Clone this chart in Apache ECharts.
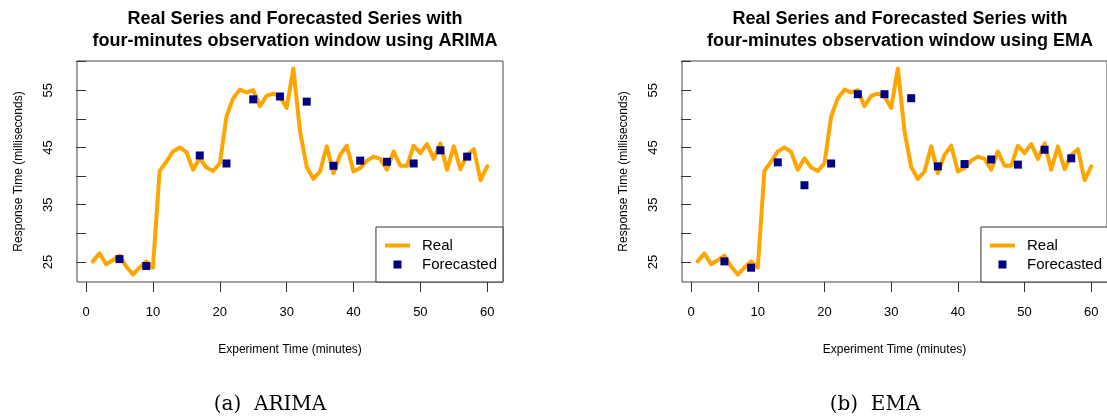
<!DOCTYPE html>
<html>
<head>
<meta charset="utf-8">
<script src="https://cdn.jsdelivr.net/npm/echarts@6/dist/echarts.min.js"></script>
<style>
  html, body { margin: 0; padding: 0; background: #fff; }
  #main { width: 1107px; height: 419px; }
</style>
</head>
<body>
<div id="main"></div>
<script>
// real response time, one value per minute
const minutes = [1, 2, 3, 4, 5, 6, 7, 8, 9, 10, 11, 12, 13, 14, 15, 16, 17, 18, 19, 20,
  21, 22, 23, 24, 25, 26, 27, 28, 29, 30, 31, 32, 33, 34, 35, 36, 37, 38, 39, 40,
  41, 42, 43, 44, 45, 46, 47, 48, 49, 50, 51, 52, 53, 54, 55, 56, 57, 58, 59, 60];
const realTime = [25.1, 26.5, 24.6, 25.3, 26.1, 24.2, 22.8, 24.0, 25.1, 24.0,
  40.9, 42.5, 44.3, 45.0, 44.2, 41.1, 43.1, 41.5, 40.9, 42.2,
  50.4, 53.6, 55.1, 54.6, 55.0, 52.2, 54.0, 54.4, 53.9, 51.9,
  58.8, 47.8, 41.6, 39.5, 40.8, 45.2, 40.5, 43.7, 45.3, 40.8,
  41.4, 42.7, 43.4, 43.0, 41.1, 44.3, 41.8, 41.8, 45.3, 44.0,
  45.6, 43.0, 45.7, 41.1, 45.2, 41.2, 43.7, 44.7, 39.3, 41.7];

// forecasts, every four minutes
const arimaMinutes = [5, 9, 17, 21, 25, 29, 33, 37, 41, 45, 49, 53, 57];
const arimaForecast = [25.5, 24.3, 43.6, 42.2, 53.4, 53.9, 53.0, 41.8, 42.7, 42.5, 42.2, 44.5, 43.4];
const emaMinutes = [5, 9, 13, 17, 21, 25, 29, 33, 37, 41, 45, 49, 53, 57];
const emaForecast = [25.1, 24.0, 42.4, 38.4, 42.2, 54.3, 54.3, 53.6, 41.7, 42.1, 42.9, 42.0, 44.6, 43.1];

const xTicks = [0, 10, 20, 30, 40, 50, 60];
const yTicks = [25, 30, 35, 40, 45, 50, 55, 60];
const yLabels = [25, 35, 45, 55];

const titles = [
  'Real Series and Forecasted Series with\nfour-minutes observation window using ARIMA',
  'Real Series and Forecasted Series with\nfour-minutes observation window using EMA'
];
const captions = ['(a)  ARIMA', '(b)  EMA'];

const SANS = 'Liberation Sans, Arial, sans-serif';
const SERIF = 'DejaVu Serif, serif';
const OFFSET = 605;

const myChart = echarts.init(document.getElementById('main'), null, { renderer: 'canvas' });

function xAxis(i) {
  return {
    type: 'value',
    gridIndex: i,
    min: -1.36,
    max: 62.36,
    axisLine: { show: false },
    splitLine: { show: false },
    axisTick: { show: true, length: 10, customValues: xTicks, lineStyle: { color: '#333' } },
    axisLabel: { customValues: xTicks, margin: 24, fontSize: 13, color: '#000', fontFamily: SANS },
    name: 'Experiment Time (minutes)',
    nameLocation: 'middle',
    nameGap: 62,
    nameTextStyle: { fontSize: 12, color: '#000', fontFamily: SANS }
  };
}

function yAxis(i) {
  return {
    type: 'value',
    gridIndex: i,
    min: 21.5,
    max: 60.1,
    axisLine: { show: false },
    splitLine: { show: false },
    axisTick: { show: true, length: 10, customValues: yTicks, lineStyle: { color: '#333' } },
    axisLabel: { customValues: yLabels, rotate: 90, margin: 22, fontSize: 13, color: '#000', fontFamily: SANS },
    name: 'Response Time (milliseconds)',
    nameLocation: 'middle',
    nameRotate: 90,
    nameGap: 52,
    nameTextStyle: { fontSize: 12, color: '#000', fontFamily: SANS }
  };
}

function legend(i) {
  return {
    orient: 'vertical',
    right: 604 - OFFSET * i,
    bottom: 137,
    padding: [11, 6, 10, 9],
    itemGap: 4,
    itemWidth: 25,
    itemHeight: 8,
    borderColor: '#333',
    borderWidth: 1,
    backgroundColor: '#fff',
    textStyle: { fontSize: 15, color: '#000', fontFamily: SANS, padding: [0, 0, 0, 7] },
    data: [
      { name: 'Real', icon: 'path://M0,0H25V4H0Z' },
      { name: 'Forecasted', icon: 'path://M0,0H8V8H0Z' }
    ]
  };
}

function series(i, fMinutes, fValues) {
  return [
    {
      name: 'Real',
      type: 'line',
      xAxisIndex: i,
      yAxisIndex: i,
      data: minutes.map((m, k) => [m, realTime[k]]),
      showSymbol: false,
      lineStyle: { width: 4, color: '#FFA500', cap: 'round', join: 'round' },
      itemStyle: { color: '#FFA500' },
      z: 2
    },
    {
      name: 'Forecasted',
      type: 'scatter',
      xAxisIndex: i,
      yAxisIndex: i,
      data: fMinutes.map((m, k) => [m, fValues[k]]),
      symbol: 'rect',
      symbolSize: 8,
      itemStyle: { color: '#000080', opacity: 1 },
      z: 3
    }
  ];
}

const option = {
  animation: false,
  title: [
    ...titles.map((t, i) => ({
      text: t,
      left: 290 + OFFSET * i,
      top: 3,
      textAlign: 'center',
      textStyle: { fontFamily: SANS, fontSize: 18, fontWeight: 'bold', lineHeight: 22, color: '#000' }
    })),
    ...captions.map((c, i) => ({
      text: c,
      left: 265 + OFFSET * i,
      top: 390,
      textAlign: 'center',
      textStyle: { fontFamily: SERIF, fontSize: 20, fontWeight: 'normal', color: '#000' }
    }))
  ],
  grid: [0, 1].map(i => ({
    left: 77 + OFFSET * i,
    top: 61,
    width: 426,
    height: 221,
    show: true,
    borderColor: '#444',
    borderWidth: 1
  })),
  legend: [legend(0), legend(1)],
  xAxis: [xAxis(0), xAxis(1)],
  yAxis: [yAxis(0), yAxis(1)],
  series: [
    ...series(0, arimaMinutes, arimaForecast),
    ...series(1, emaMinutes, emaForecast)
  ]
};

myChart.setOption(option);
</script>
</body>
</html>
